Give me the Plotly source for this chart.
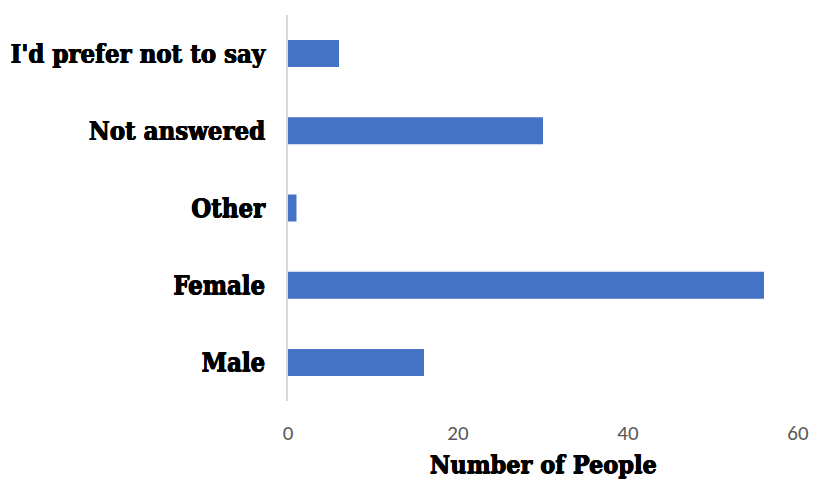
import plotly.graph_objects as go

categories = ["Male", "Female", "Other", "Not answered", "I'd prefer not to say"]
values = [16, 56, 1, 30, 6]
x_ticks = [0, 20, 40, 60]

label_font = "DejaVu Serif Condensed, DejaVu Serif, serif"
heavy = "0.8px 0 0 #000, 0.4px 0.4px 0 #000, 0 0.6px 0 #000"

fig = go.Figure(go.Bar(
    x=values, y=categories, orientation="h",
    marker=dict(color="#4472C4", line=dict(width=0)),
    width=0.35,
))

fig.update_layout(
    width=813, height=479,
    margin=dict(l=288, r=15, t=15, b=78, autoexpand=False),
    plot_bgcolor="white", paper_bgcolor="white",
    showlegend=False,
)
fig.update_xaxes(
    range=[0, 60], tickvals=x_ticks, showgrid=False, zeroline=False,
    showline=False, ticks="", automargin=False,
    tickfont=dict(family="Carlito, Lato, Open Sans, sans-serif", size=21, color="#595959"),
    ticklabelstandoff=17,
    title=dict(text="<b>Number of People</b>",
               font=dict(family=label_font, size=25, color="#000000", shadow=heavy),
               standoff=13),
)
fig.update_yaxes(
    categoryorder="array", categoryarray=categories,
    range=[-0.5, 4.5],
    showgrid=False, zeroline=False, automargin=False,
    showline=True, linecolor="#d9d9d9", linewidth=2,
    ticks="",
    tickfont=dict(family=label_font, size=25.5, color="#000000", weight="bold", shadow=heavy),
    ticklabelstandoff=16,
)

fig.write_html("out.html")
